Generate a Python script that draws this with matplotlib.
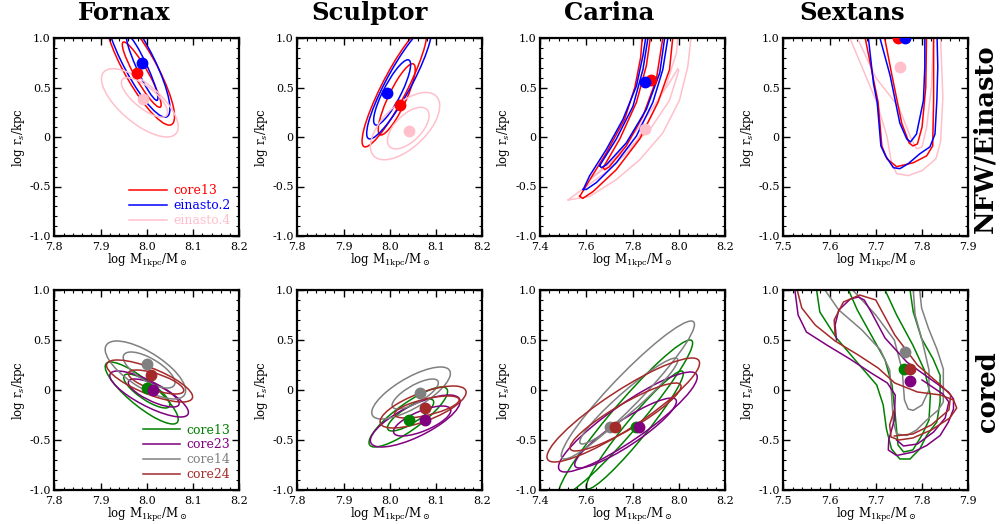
import numpy as np
import matplotlib
matplotlib.use("Agg")
import matplotlib.pyplot as plt
from matplotlib.patches import Ellipse
from matplotlib.ticker import MultipleLocator

plt.rcParams['font.family'] = 'DejaVu Serif'
plt.rcParams['mathtext.fontset'] = 'dejavuserif'

# ---- data -------------------------------------------------------------
galaxies = ['Fornax', 'Sculptor', 'Carina', 'Sextans']
rows = ['NFW/Einasto', 'cored']

models_top = ['core13', 'einasto.2', 'einasto.4']
models_bot = ['core13', 'core23', 'core14', 'core24']
colors_top = {'core13': 'red', 'einasto.2': 'blue', 'einasto.4': 'pink'}
colors_bot = {'core13': 'green', 'core23': 'purple', 'core14': 'gray', 'core24': 'brown'}

x_ranges = {'Fornax': (7.8, 8.2), 'Sculptor': (7.8, 8.2), 'Carina': (7.4, 8.2), 'Sextans': (7.5, 7.9)}
x_major = {'Fornax': 0.1, 'Sculptor': 0.1, 'Carina': 0.2, 'Sextans': 0.1}
x_ticklabels = {
    'Fornax': ['7.8', '7.9', '8.0', '8.1', '8.2'],
    'Sculptor': ['7.8', '7.9', '8.0', '8.1', '8.2'],
    'Carina': ['7.4', '7.6', '7.8', '8.0', '8.2'],
    'Sextans': ['7.5', '7.6', '7.7', '7.8', '7.9'],
}
y_ticks = [-1.0, -0.5, 0.0, 0.5, 1.0]
y_ticklabels = ['-1.0', '-0.5', '0', '0.5', '1.0']

# best-fit points: (x, y) per model, same order as the model lists
best_top = {
    'Fornax':   [(7.978, 0.646), (7.989, 0.747), (7.991, 0.380)],
    'Sculptor': [(8.023, 0.320), (7.995, 0.440), (8.041, 0.057)],
    'Carina':   [(7.881, 0.580), (7.852, 0.556), (7.852, 0.077)],
    'Sextans':  [(7.749, 1.000), (7.763, 1.000), (7.752, 0.707)],
}
best_bot = {
    'Fornax':   [(8.000, 0.020), (8.014, -0.003), (8.000, 0.264), (8.010, 0.147)],
    'Sculptor': [(8.041, -0.304), (8.076, -0.304), (8.065, -0.030), (8.076, -0.177)],
    'Carina':   [(7.817, -0.365), (7.828, -0.365), (7.702, -0.365), (7.723, -0.365)],
    'Sextans':  [(7.762, 0.207), (7.775, 0.087), (7.763, 0.381), (7.774, 0.207)],
}

# confidence ellipses: model, centre x, centre y, half x-extent, half y-extent, correlation
fornax_top_ell = [
    ('core13', 7.989, 0.630, 0.042, 0.330, -0.92),
    ('core13', 7.985, 0.700, 0.075, 0.580, -0.85),
    ('einasto.2', 7.990, 0.700, 0.034, 0.330, -0.93),
    ('einasto.2', 7.980, 0.780, 0.070, 0.580, -0.85),
    ('einasto.4', 7.995, 0.400, 0.050, 0.200, -0.75),
    ('einasto.4', 7.985, 0.345, 0.083, 0.345, -0.70),
]
sculptor_top_ell = [
    ('core13', 8.015, 0.380, 0.040, 0.360, 0.85),
    ('core13', 8.010, 0.500, 0.070, 0.600, 0.90),
    ('einasto.2', 8.005, 0.450, 0.040, 0.330, 0.85),
    ('einasto.2', 8.020, 0.550, 0.070, 0.570, 0.90),
    ('einasto.4', 8.040, 0.090, 0.045, 0.210, 0.60),
    ('einasto.4', 8.033, 0.110, 0.075, 0.340, 0.60),
]
fornax_bot_ell = [
    ('core13', 8.000, -0.010, 0.050, 0.170, -0.80),
    ('core13', 7.989, -0.030, 0.079, 0.310, -0.85),
    ('core23', 8.015, -0.030, 0.055, 0.140, -0.75),
    ('core23', 8.005, -0.040, 0.085, 0.230, -0.80),
    ('core14', 8.005, 0.200, 0.056, 0.180, -0.70),
    ('core14', 7.997, 0.200, 0.087, 0.290, -0.71),
    ('core24', 8.020, 0.080, 0.060, 0.120, -0.70),
    ('core24', 8.006, 0.090, 0.093, 0.210, -0.75),
]
sculptor_bot_ell = [
    ('core13', 8.045, -0.250, 0.050, 0.160, 0.80),
    ('core13', 8.040, -0.270, 0.085, 0.300, 0.85),
    ('core23', 8.070, -0.310, 0.062, 0.150, 0.70),
    ('core23', 8.055, -0.310, 0.097, 0.260, 0.75),
    ('core14', 8.055, -0.040, 0.050, 0.150, 0.75),
    ('core14', 8.046, -0.030, 0.085, 0.260, 0.75),
    ('core24', 8.080, -0.170, 0.070, 0.110, 0.65),
    ('core24', 8.072, -0.170, 0.093, 0.210, 0.70),
]
carina_bot_ell = [
    ('core13', 7.810, -0.400, 0.210, 0.590, 0.96),
    ('core13', 7.770, -0.280, 0.290, 0.780, 0.96),
    ('core23', 7.770, -0.430, 0.220, 0.350, 0.90),
    ('core23', 7.780, -0.320, 0.300, 0.500, 0.90),
    ('core14', 7.784, -0.110, 0.212, 0.430, 0.95),
    ('core14', 7.780, 0.000, 0.288, 0.690, 0.95),
    ('core24', 7.770, -0.270, 0.240, 0.340, 0.90),
    ('core24', 7.760, -0.200, 0.330, 0.520, 0.90),
]

# traced contour outlines (x, y) for the non-elliptical panels
carina_top_lines = [
    ('einasto.4', [(7.522, -0.636), (7.615, -0.60), (7.730, -0.43), (7.831, -0.23), (7.931, 0.04),
                   (8.003, 0.37), (8.039, 0.71), (8.053, 1.00), (8.055, 1.10), (8.000, 1.10),
                   (7.990, 0.85), (7.950, 0.55), (7.880, 0.20), (7.800, -0.10), (7.700, -0.33),
                   (7.600, -0.50), (7.530, -0.62), (7.522, -0.636)]),
    ('einasto.4', [(7.620, -0.42), (7.716, -0.23), (7.831, 0.11), (7.903, 0.35), (7.960, 0.55),
                   (7.996, 0.69), (8.000, 0.67), (7.960, 0.37), (7.874, 0.07), (7.759, -0.16),
                   (7.644, -0.38), (7.620, -0.42)]),
    ('core13', [(7.572, -0.60), (7.608, -0.46), (7.687, -0.16), (7.766, 0.18), (7.810, 0.50),
                (7.835, 0.80), (7.842, 1.00), (7.845, 1.10), (7.976, 1.10), (7.974, 1.00),
                (7.960, 0.68), (7.910, 0.35), (7.831, -0.02), (7.730, -0.33), (7.630, -0.55),
                (7.585, -0.62), (7.572, -0.60)]),
    ('core13', [(7.673, -0.31), (7.745, -0.02), (7.817, 0.35), (7.860, 0.72), (7.877, 1.00),
                (7.880, 1.10), (7.933, 1.10), (7.931, 1.00), (7.903, 0.58), (7.845, 0.21),
                (7.773, -0.09), (7.700, -0.30), (7.680, -0.33), (7.673, -0.31)]),
    ('einasto.2', [(7.587, -0.53), (7.615, -0.39), (7.687, -0.125), (7.759, 0.18), (7.817, 0.515),
                   (7.845, 0.82), (7.857, 1.00), (7.860, 1.10), (7.955, 1.10), (7.953, 1.00),
                   (7.931, 0.68), (7.888, 0.35), (7.817, 0.01), (7.730, -0.26), (7.644, -0.46),
                   (7.600, -0.53), (7.587, -0.53)]),
    ('einasto.2', [(7.658, -0.29), (7.730, -0.02), (7.802, 0.31), (7.845, 0.68), (7.867, 1.00),
                   (7.870, 1.10), (7.940, 1.10), (7.939, 1.00), (7.918, 0.65), (7.860, 0.28),
                   (7.773, -0.06), (7.687, -0.28), (7.665, -0.31), (7.658, -0.29)]),
]
sextans_top_lines = [
    ('einasto.4', [(7.644, 1.10), (7.644, 1.00), (7.702, 0.35), (7.724, 0.01), (7.734, -0.26),
                   (7.745, -0.37), (7.770, -0.39), (7.800, -0.34), (7.830, -0.22), (7.840, -0.05),
                   (7.845, 0.40), (7.840, 1.00), (7.840, 1.10)]),
    ('einasto.4', [(7.655, 1.10), (7.660, 1.00), (7.700, 0.60), (7.750, 0.30), (7.775, 0.00),
                   (7.788, -0.12), (7.800, -0.10), (7.810, 0.10), (7.820, 0.50), (7.825, 1.00),
                   (7.826, 1.10)]),
    ('core13', [(7.677, 1.10), (7.677, 1.00), (7.705, 0.35), (7.713, -0.09), (7.724, -0.22),
                (7.745, -0.30), (7.781, -0.26), (7.810, -0.19), (7.823, -0.09), (7.825, 0.37),
                (7.825, 1.00), (7.825, 1.10)]),
    ('core13', [(7.715, 1.10), (7.735, 0.62), (7.756, 0.14), (7.772, -0.06), (7.780, -0.09),
                (7.790, -0.07), (7.800, 0.10), (7.808, 0.50), (7.810, 1.10)]),
    ('einasto.2', [(7.684, 1.10), (7.684, 1.00), (7.695, 0.54), (7.703, 0.35), (7.711, -0.09),
                   (7.721, -0.19), (7.738, -0.31), (7.752, -0.32), (7.770, -0.27), (7.795, -0.17),
                   (7.817, -0.10), (7.828, 0.03), (7.832, 0.37), (7.834, 0.71), (7.832, 1.10)]),
    ('einasto.2', [(7.709, 1.10), (7.709, 1.00), (7.731, 0.62), (7.752, 0.14), (7.767, -0.02),
                   (7.775, -0.05), (7.788, 0.03), (7.803, 0.37), (7.806, 0.71), (7.806, 1.10)]),
]
sextans_bot_lines = [
    ('core13', [(7.572, 1.10), (7.572, 1.00), (7.579, 0.78), (7.615, 0.52), (7.659, 0.28),
                (7.702, 0.05), (7.716, -0.15), (7.723, -0.39), (7.734, -0.59), (7.752, -0.69),
                (7.774, -0.69), (7.795, -0.59), (7.810, -0.455), (7.832, -0.32), (7.839, -0.12),
                (7.839, 0.147), (7.824, 0.31), (7.799, 0.515), (7.781, 0.78), (7.774, 1.00),
                (7.774, 1.10)]),
    ('core13', [(7.641, 1.10), (7.641, 1.00), (7.660, 0.80), (7.690, 0.55), (7.720, 0.30),
                (7.735, 0.05), (7.742, -0.25), (7.748, -0.55), (7.760, -0.62), (7.780, -0.60),
                (7.800, -0.45), (7.815, -0.30), (7.818, -0.05), (7.805, 0.20), (7.780, 0.45),
                (7.745, 0.75), (7.720, 1.00), (7.720, 1.10)]),
    ('core14', [(7.590, 1.10), (7.590, 1.00), (7.620, 0.80), (7.670, 0.60), (7.710, 0.40),
                (7.730, 0.20), (7.734, -0.05), (7.738, -0.32), (7.745, -0.44), (7.767, -0.455),
                (7.788, -0.40), (7.810, -0.30), (7.835, -0.20), (7.846, -0.12), (7.846, 0.21),
                (7.832, 0.41), (7.814, 0.615), (7.799, 0.82), (7.795, 1.00), (7.795, 1.10)]),
    ('core14', [(7.650, 1.10), (7.650, 1.00), (7.700, 0.75), (7.740, 0.50), (7.757, 0.20),
                (7.762, -0.10), (7.770, -0.19), (7.781, -0.204), (7.800, -0.15), (7.815, 0.00),
                (7.815, 0.20), (7.800, 0.50), (7.785, 0.75), (7.781, 1.00), (7.781, 1.10)]),
    ('core23', [(7.525, 1.10), (7.525, 1.00), (7.532, 0.75), (7.550, 0.58), (7.594, 0.45),
                (7.644, 0.31), (7.690, 0.17), (7.725, 0.07), (7.742, -0.05), (7.740, -0.30),
                (7.728, -0.50), (7.727, -0.60), (7.745, -0.655), (7.781, -0.62), (7.810, -0.555),
                (7.839, -0.455), (7.857, -0.32), (7.868, -0.19), (7.868, -0.09), (7.857, -0.02),
                (7.832, 0.064), (7.767, 0.28), (7.720, 0.52), (7.690, 0.78), (7.675, 0.90),
                (7.662, 0.93), (7.645, 0.91), (7.620, 0.80), (7.612, 0.65), (7.615, 0.50)]),
    ('core23', [(7.745, -0.50), (7.760, -0.56), (7.790, -0.54), (7.825, -0.42), (7.850, -0.28),
                (7.858, -0.12), (7.845, -0.04), (7.800, 0.10)]),
    ('core24', [(7.530, 1.10), (7.530, 1.00), (7.540, 0.82), (7.569, 0.65), (7.612, 0.49),
                (7.662, 0.35), (7.705, 0.22), (7.741, 0.07), (7.790, -0.02), (7.840, -0.05),
                (7.868, -0.10), (7.875, -0.18), (7.860, -0.28), (7.820, -0.40), (7.780, -0.48),
                (7.750, -0.50), (7.733, -0.47), (7.730, -0.35), (7.740, -0.20)]),
    ('core24', [(7.612, 0.55), (7.610, 0.70), (7.630, 0.88), (7.665, 0.95), (7.700, 0.90),
                (7.741, 0.55), (7.790, 0.25), (7.840, 0.05), (7.862, -0.05), (7.858, -0.20),
                (7.820, -0.35), (7.780, -0.44), (7.740, -0.46)]),
]

panel_ellipses = {
    (0, 'Fornax'): fornax_top_ell, (0, 'Sculptor'): sculptor_top_ell,
    (1, 'Fornax'): fornax_bot_ell, (1, 'Sculptor'): sculptor_bot_ell, (1, 'Carina'): carina_bot_ell,
}
panel_lines = {
    (0, 'Carina'): carina_top_lines, (0, 'Sextans'): sextans_top_lines,
    (1, 'Sextans'): sextans_bot_lines,
}


def add_conf_ellipse(ax, cx, cy, hx, hy, rho, color):
    cov = np.array([[hx**2, rho * hx * hy], [rho * hx * hy, hy**2]])
    vals, vecs = np.linalg.eigh(cov)
    angle = np.degrees(np.arctan2(vecs[1, 1], vecs[0, 1]))
    e = Ellipse((cx, cy), 2 * np.sqrt(vals[1]), 2 * np.sqrt(vals[0]), angle=angle,
                fill=False, edgecolor=color, lw=1.1)
    ax.add_patch(e)


fig = plt.figure(figsize=(10.02, 5.24), dpi=100)
lefts = [54.3, 297.3, 540.0, 783.3]
W, H = 1002.0, 524.0

for r in range(2):
    models = models_top if r == 0 else models_bot
    cols = colors_top if r == 0 else colors_bot
    best = best_top if r == 0 else best_bot
    top_px, bot_px = (38, 236) if r == 0 else (290, 490)
    for i, g in enumerate(galaxies):
        ax = fig.add_axes([lefts[i] / W, 1 - bot_px / H, 185 / W, (bot_px - top_px) / H])

        for m, cx, cy, hx, hy, rho in panel_ellipses.get((r, g), []):
            add_conf_ellipse(ax, cx, cy, hx, hy, rho, cols[m])
        for m, pts in panel_lines.get((r, g), []):
            xs, ys = zip(*pts)
            ax.plot(xs, ys, color=cols[m], lw=1.1)
        for m, (bx, by) in zip(models, best[g]):
            ax.plot(bx, by, 'o', color=cols[m], ms=7.5, zorder=5)

        x0, x1 = x_ranges[g]
        ax.set_xlim(x0, x1)
        ax.set_ylim(-1.0, 1.0)
        ax.set_xticks(np.linspace(x0, x1, 5))
        ax.set_xticklabels(x_ticklabels[g])
        ax.set_yticks(y_ticks)
        ax.set_yticklabels(y_ticklabels)
        ax.xaxis.set_minor_locator(MultipleLocator(x_major[g] / 5))
        ax.yaxis.set_minor_locator(MultipleLocator(0.1))
        ax.tick_params(which='both', direction='in', top=True, right=True, labelsize=8)
        ax.tick_params(axis='x', which='major', pad=4)
        ax.tick_params(axis='y', which='major', pad=2.5)
        ax.tick_params(which='major', length=5, width=1)
        ax.tick_params(which='minor', length=2.5, width=0.8)
        for s in ax.spines.values():
            s.set_linewidth(1.6)
        ax.set_xlabel(r'log M$_{\rm 1kpc}$/M$_\odot$', fontsize=8.5, labelpad=0)
        ax.set_ylabel(r'log r$_s$/kpc', fontsize=8.5, labelpad=2)

        if i == 0:
            for m in models:
                ax.plot([], [], color=cols[m], lw=1.1, label=m)
            ax.legend(loc='lower right', frameon=False, fontsize=9, labelcolor='linecolor',
                      handlelength=3.0, handletextpad=0.5, labelspacing=0.15,
                      borderaxespad=0.3)

title_x = [124, 370, 609, 852]
for i, g in enumerate(galaxies):
    fig.text(title_x[i] / W, 1 - 13 / H, g, fontsize=17.5, fontweight='bold',
             ha='center', va='center')
fig.text(985 / W, 1 - 139 / H, rows[0], fontsize=18.5, fontweight='bold', rotation=90,
         ha='center', va='center')
fig.text(987 / W, 1 - 392 / H, rows[1], fontsize=18.5, fontweight='bold', rotation=90,
         ha='center', va='center')

fig.savefig('out.png', dpi=100)
